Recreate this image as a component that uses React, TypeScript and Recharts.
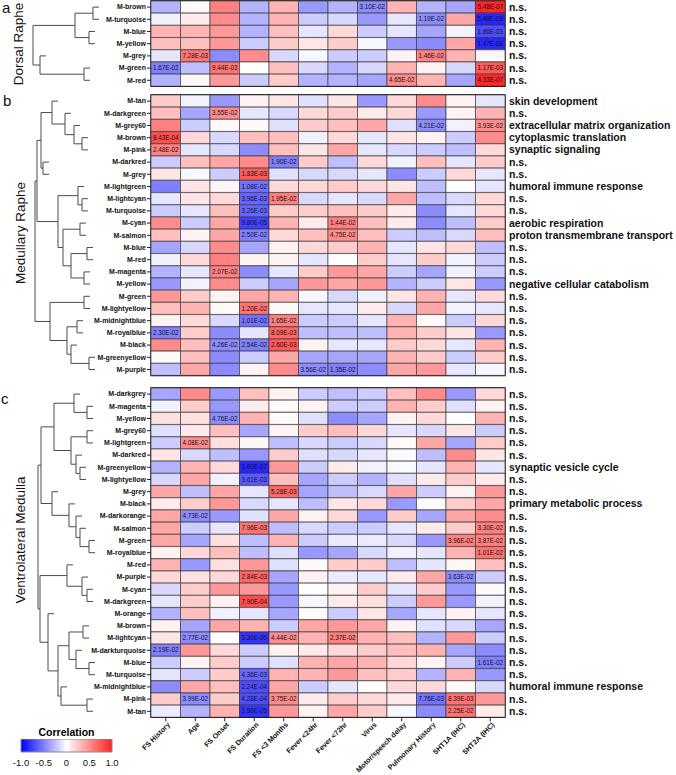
import React from 'react';
import { BarChart, Bar, Cell, XAxis, YAxis, ReferenceArea, ComposedChart, ReferenceLine, Scatter } from 'recharts';

type Tree = string | { h: number; l: Tree; r: Tree };
function m(h: number, l: Tree, r: Tree): Tree {
  return { h, l, r };
}

const TRAITS = [
  'FS History', 'Age', 'FS Onset', 'FS Duration', 'FS <3 Months', 'Fever <24hr',
  'Fever <72hr', 'Virus', 'Motor/speech delay', 'Pulmonary History', '5HT1A (IHC)', '5HT2A (IHC)',
];

// ---- a: Dorsal Raphe ----
const DR_MODULES = ['M-brown', 'M-turquoise', 'M-blue', 'M-yellow', 'M-grey', 'M-green', 'M-red'];
const DR_GO = ['n.s.', 'n.s.', 'n.s.', 'n.s.', 'n.s.', 'n.s.', 'n.s.'];
const DR_CORR = [
  [-0.3, 0.02, 0.5, -0.3, 0.3, -0.4, -0.3, -0.45, 0.3, -0.3, -0.35, 0.85],
  [-0.05, 0.08, 0.45, -0.3, 0.3, -0.2, -0.15, -0.4, -0.1, -0.45, 0.35, -0.85],
  [0.3, 0.3, 0.4, -0.3, 0.25, -0.1, 0.15, -0.2, -0.1, -0.35, -0.05, -0.7],
  [0.25, 0.25, 0.4, -0.2, 0.2, 0.1, 0.2, -0.03, -0.4, -0.45, 0.35, -0.85],
  [-0.1, 0.55, -0.45, 0.45, -0.15, -0.03, -0.2, -0.2, 0.05, 0.5, 0.3, 0.03],
  [-0.5, -0.25, 0.55, 0, 0.25, -0.15, -0.3, -0.15, 0.3, 0.05, -0.15, 0.65],
  [-0.3, 0.03, 0.4, -0.2, 0.2, -0.3, -0.3, -0.35, 0.45, 0.3, -0.35, 0.85],
];
const DR_P: [string, number, string][] = [
  ['M-brown', 7, '3.10E-02'], ['M-brown', 11, '5.48E-07'],
  ['M-turquoise', 9, '1.19E-02'], ['M-turquoise', 11, '5.48E-09'],
  ['M-blue', 11, '1.86E-03'], ['M-yellow', 11, '1.47E-08'],
  ['M-grey', 1, '7.28E-03'], ['M-grey', 9, '1.46E-02'],
  ['M-green', 0, '1.67E-02'], ['M-green', 2, '9.44E-03'], ['M-green', 11, '1.17E-03'],
  ['M-red', 8, '4.65E-02'], ['M-red', 11, '4.33E-07'],
];
const DR_TREE = m(67,
  m(25, m(7, 'M-brown', 'M-turquoise'), m(11, 'M-blue', 'M-yellow')),
  m(60, 'M-grey', m(16, 'M-green', 'M-red')));

// ---- b: Medullary Raphe ----
const MR_MODULES = [
  'M-tan', 'M-darkgreen', 'M-grey60', 'M-brown', 'M-pink', 'M-darkred', 'M-grey', 'M-lightgreen',
  'M-lightcyan', 'M-turquoise', 'M-cyan', 'M-salmon', 'M-blue', 'M-red', 'M-magenta', 'M-yellow',
  'M-green', 'M-lightyellow', 'M-midnightblue', 'M-royalblue', 'M-black', 'M-greenyellow', 'M-purple',
];
const MR_GO = [
  'skin development', 'n.s.', 'extracellular matrix organization', 'cytoplasmic translation',
  'synaptic signaling', 'n.s.', 'n.s.', 'humoral immune response', 'n.s.', 'n.s.',
  'aerobic respiration', 'proton transmembrane transport', 'n.s.', 'n.s.', 'n.s.',
  'negative cellular catabolism', 'n.s.', 'n.s.', 'n.s.', 'n.s.', 'n.s.', 'n.s.', 'n.s.',
];
const MR_CORR = [
  [0.2, -0.05, -0.4, 0.05, 0.1, -0.12, 0.1, -0.4, 0.15, 0.45, 0.05, -0.1],
  [0.25, -0.35, 0.45, -0.1, -0.15, 0.15, 0.2, 0.08, 0.15, -0.4, 0.05, 0.3],
  [0.5, -0.2, 0.02, 0.02, -0.12, 0.2, 0.25, 0.35, -0.12, -0.45, -0.05, 0.45],
  [0.7, 0.15, -0.15, 0.25, 0.25, -0.05, 0.15, -0.1, 0.1, 0.05, -0.2, 0.45],
  [0.5, -0.1, -0.15, -0.45, 0.25, 0.1, 0.35, -0.1, -0.15, -0.2, -0.25, 0.15],
  [-0.2, 0.25, 0.35, 0.45, -0.5, 0.2, -0.25, 0.15, -0.05, 0.25, -0.1, 0.2],
  [0.1, -0.03, -0.2, 0.65, -0.12, -0.15, -0.15, -0.1, -0.45, -0.2, 0.15, -0.1],
  [-0.5, 0.1, 0.03, -0.55, 0.15, 0.15, 0.2, 0.15, 0.1, -0.25, 0, -0.1],
  [-0.1, 0.1, 0.15, -0.6, 0.5, -0.15, -0.1, -0.15, 0.35, -0.25, -0.15, 0.15],
  [-0.2, -0.1, 0.25, -0.6, 0.2, 0.2, 0.25, 0.2, 0.08, -0.45, -0.1, 0.15],
  [0.45, -0.2, 0.35, -0.75, 0.3, 0.08, 0.5, 0.25, 0.08, -0.45, -0.25, 0.2],
  [0.25, 0.05, 0.35, -0.5, 0.15, 0.25, 0.45, 0.25, -0.2, -0.25, -0.15, 0.25],
  [-0.35, -0.15, 0.45, -0.35, 0.05, 0.15, 0.2, 0.3, -0.1, 0.1, 0.15, -0.25],
  [-0.05, 0.15, 0.5, 0.05, 0.05, -0.1, 0, 0.2, -0.1, 0.2, -0.05, -0.2],
  [-0.3, -0.1, 0.5, -0.45, -0.1, 0.2, 0.4, 0.35, -0.2, -0.35, -0.05, -0.2],
  [-0.4, -0.05, 0.45, -0.2, -0.35, 0.4, 0.35, 0.4, -0.3, -0.2, 0.1, -0.4],
  [0.4, 0.2, 0.05, 0.35, 0.3, -0.03, -0.15, -0.05, 0.1, 0.3, -0.1, 0.15],
  [0.25, 0.3, 0.02, 0.55, 0.02, -0.1, -0.1, 0.08, -0.15, 0.35, -0.05, -0.1],
  [0.05, 0.15, -0.15, -0.55, 0.5, -0.2, -0.2, -0.1, 0.3, 0.02, -0.2, 0.15],
  [-0.5, 0.2, -0.45, -0.1, 0.6, -0.25, -0.25, -0.25, 0.3, 0.2, 0.1, -0.4],
  [0.45, 0.25, -0.45, -0.5, 0.65, 0.05, -0.1, -0.1, 0.2, 0.15, -0.1, 0.3],
  [0.02, 0.25, -0.45, -0.2, 0.35, -0.35, -0.35, -0.35, 0.3, 0.2, -0.2, 0.2],
  [-0.25, 0.35, -0.45, 0.05, 0.45, -0.45, -0.5, -0.45, 0.35, 0.4, -0.1, -0.03],
];
const MR_P: [string, number, string][] = [
  ['M-darkgreen', 2, '3.55E-02'], ['M-grey60', 9, '4.21E-02'], ['M-grey60', 11, '3.93E-02'],
  ['M-brown', 0, '8.43E-04'], ['M-pink', 0, '2.48E-02'], ['M-darkred', 4, '1.90E-02'],
  ['M-grey', 3, '1.83E-03'], ['M-lightgreen', 3, '1.08E-02'], ['M-lightcyan', 3, '3.96E-03'],
  ['M-lightcyan', 4, '1.95E-02'], ['M-turquoise', 3, '3.26E-03'], ['M-cyan', 3, '9.80E-05'],
  ['M-cyan', 6, '1.44E-02'], ['M-salmon', 3, '2.50E-02'], ['M-salmon', 6, '4.75E-02'],
  ['M-magenta', 2, '2.07E-02'], ['M-lightyellow', 3, '1.20E-02'], ['M-midnightblue', 3, '1.01E-02'],
  ['M-midnightblue', 4, '1.65E-02'], ['M-royalblue', 0, '2.30E-02'], ['M-royalblue', 4, '8.09E-03'],
  ['M-black', 2, '4.26E-02'], ['M-black', 3, '2.54E-02'], ['M-black', 4, '2.60E-03'],
  ['M-purple', 5, '3.56E-02'], ['M-purple', 6, '1.35E-02'],
];
const MR_TREE = m(65,
  m(63,
    m(59,
      m(48, 'M-tan', m(35, 'M-darkgreen', m(26, 'M-grey60', m(18, 'M-brown', 'M-pink')))),
      m(57, 'M-darkred', 'M-grey')),
    m(42,
      m(22, 'M-lightgreen', m(18, 'M-lightcyan', 'M-turquoise')),
      m(37, m(20, 'M-cyan', 'M-salmon'), m(29, m(13, 'M-blue', 'M-red'), m(16, 'M-magenta', 'M-yellow'))))),
  m(50,
    m(16, 'M-green', 'M-lightyellow'),
    m(33, m(23, 'M-midnightblue', 'M-royalblue'), m(29, 'M-black', m(11, 'M-greenyellow', 'M-purple')))));

// ---- c: Ventrolateral Medulla ----
const VLM_MODULES = [
  'M-darkgrey', 'M-magenta', 'M-yellow', 'M-grey60', 'M-lightgreen', 'M-darkred', 'M-greenyellow',
  'M-lightyellow', 'M-grey', 'M-black', 'M-darkorange', 'M-salmon', 'M-green', 'M-royalblue', 'M-red',
  'M-purple', 'M-cyan', 'M-darkgreen', 'M-orange', 'M-brown', 'M-lightcyan', 'M-darkturquoise',
  'M-blue', 'M-turquoise', 'M-midnightblue', 'M-pink', 'M-tan',
];
const VLM_GO = [
  'n.s.', 'n.s.', 'n.s.', 'n.s.', 'n.s.', 'n.s.', 'synaptic vesicle cycle', 'n.s.', 'n.s.',
  'primary metabolic process', 'n.s.', 'n.s.', 'n.s.', 'n.s.', 'n.s.', 'n.s.', 'n.s.', 'n.s.',
  'n.s.', 'n.s.', 'n.s.', 'n.s.', 'n.s.', 'n.s.', 'humoral immune response', 'n.s.', 'n.s.',
];
const VLM_CORR = [
  [-0.35, 0.45, -0.4, 0.25, 0.05, -0.2, -0.25, -0.2, 0.25, 0.45, -0.4, 0.15],
  [-0.05, 0.2, -0.4, 0.08, 0.02, 0.05, -0.2, -0.2, 0.3, 0.2, -0.12, 0.05],
  [0.12, 0.12, -0.45, 0.3, 0.02, -0.12, -0.45, -0.35, 0.05, 0.15, 0, 0.3],
  [-0.12, 0.08, 0.25, -0.35, 0.05, 0.2, 0.25, 0.15, -0.1, -0.15, 0.1, -0.2],
  [-0.2, 0.45, 0.12, 0.03, -0.25, -0.15, -0.2, -0.15, 0.02, 0.35, -0.35, 0.2],
  [0.1, -0.15, -0.25, -0.4, 0.2, -0.12, -0.15, -0.1, -0.02, -0.25, 0.45, 0.1],
  [-0.3, 0.3, 0.15, -0.85, 0.4, -0.2, 0.08, -0.05, -0.02, -0.1, 0.3, -0.1],
  [-0.15, 0.35, -0.05, -0.65, 0.25, -0.35, -0.2, -0.3, -0.12, 0.08, 0.2, 0.08],
  [0.35, -0.25, 0.35, -0.1, 0.6, -0.35, -0.25, -0.15, 0.35, -0.2, 0.05, 0.4],
  [0.08, 0.2, 0.4, -0.15, -0.1, -0.25, 0.1, 0.15, -0.4, 0.02, 0.2, 0.35],
  [0.35, -0.45, -0.4, -0.12, 0.35, 0.05, 0.15, -0.4, 0.2, -0.35, 0.35, 0.45],
  [0.35, -0.2, -0.1, 0.55, -0.25, -0.15, -0.2, -0.2, -0.1, 0.08, 0.2, 0.5],
  [0.35, -0.35, 0.12, -0.25, 0.3, -0.2, -0.08, -0.08, -0.15, -0.4, 0.5, 0.5],
  [0.05, 0.15, 0.25, -0.25, -0.12, -0.4, -0.35, -0.15, -0.05, -0.1, 0.3, 0.55],
  [0.3, -0.4, 0.12, 0.4, -0.12, 0.02, 0.2, 0.2, -0.25, -0.1, 0.03, 0.25],
  [0.15, 0.12, 0.15, 0.6, -0.35, 0.05, -0.08, -0.1, 0.08, 0.35, -0.45, -0.2],
  [-0.15, 0.2, 0.4, 0.4, -0.4, 0, 0.05, 0.2, -0.1, 0.2, -0.4, -0.02],
  [-0.1, 0.2, 0.05, 0.7, -0.4, -0.03, 0.08, 0.12, -0.2, 0.4, -0.4, -0.05],
  [-0.3, 0.25, -0.05, -0.1, -0.35, 0.02, -0.2, 0.1, -0.35, -0.1, 0.05, -0.1],
  [0.05, -0.35, 0.35, 0.3, -0.2, 0.35, 0.4, 0.35, 0.05, -0.12, -0.15, -0.35],
  [0.1, -0.45, 0, -0.8, 0.45, 0.3, 0.5, 0.3, 0.25, -0.3, 0.4, -0.2],
  [-0.5, 0.4, 0.15, -0.2, 0.05, 0.08, 0.15, 0.2, 0.25, 0.3, -0.35, -0.45],
  [-0.2, 0.05, 0.2, -0.2, -0.12, 0.3, 0.35, 0.3, 0.15, 0.05, -0.2, -0.5],
  [-0.1, -0.2, 0.2, -0.6, 0.3, 0.3, 0.4, 0.25, 0.2, -0.3, 0.3, -0.4],
  [-0.45, 0.35, 0.25, -0.7, 0.35, -0.2, -0.1, 0, 0.15, 0.15, 0.02, -0.15],
  [0.2, -0.45, 0.2, -0.7, 0.45, 0.08, 0.2, 0.15, 0.08, -0.55, 0.55, 0.4],
  [-0.08, -0.3, 0.3, -0.8, 0.4, 0.05, 0.35, 0.2, -0.03, -0.45, 0.55, 0.08],
];
const VLM_P: [string, number, string][] = [
  ['M-yellow', 2, '4.76E-02'], ['M-lightgreen', 1, '4.08E-02'], ['M-greenyellow', 3, '1.60E-07'],
  ['M-lightyellow', 3, '3.61E-03'], ['M-grey', 4, '5.28E-03'], ['M-darkorange', 1, '4.73E-02'],
  ['M-salmon', 3, '7.96E-03'], ['M-salmon', 11, '3.30E-02'], ['M-green', 10, '3.96E-02'],
  ['M-green', 11, '3.87E-02'], ['M-royalblue', 11, '1.01E-02'], ['M-purple', 3, '2.84E-03'],
  ['M-purple', 10, '3.63E-02'], ['M-darkgreen', 3, '7.90E-04'], ['M-lightcyan', 1, '2.77E-02'],
  ['M-lightcyan', 3, '3.30E-05'], ['M-lightcyan', 4, '4.44E-02'], ['M-lightcyan', 6, '2.37E-02'],
  ['M-darkturquoise', 0, '2.19E-02'], ['M-blue', 11, '1.61E-02'], ['M-turquoise', 3, '4.36E-03'],
  ['M-midnightblue', 3, '2.24E-04'], ['M-pink', 1, '3.99E-02'], ['M-pink', 3, '4.28E-04'],
  ['M-pink', 4, '3.75E-02'], ['M-pink', 9, '7.76E-03'], ['M-pink', 10, '8.39E-03'],
  ['M-tan', 3, '1.96E-05'], ['M-tan', 10, '2.25E-02'],
];
const VLM_TREE = m(62,
  m(59,
    m(46, m(26, 'M-darkgrey', m(13, 'M-magenta', 'M-yellow')),
      m(29, m(13, 'M-grey60', 'M-lightgreen'), m(24, 'M-darkred', m(20, 'M-greenyellow', 'M-lightyellow')))),
    m(48, 'M-grey', m(31, 'M-black', m(24, 'M-darkorange', m(20, 'M-salmon', m(11, 'M-green', 'M-royalblue')))))),
  m(60,
    m(33, 'M-red', m(18, 'M-purple', m(13, 'M-cyan', 'M-darkgreen'))),
    m(52, 'M-orange',
      m(42,
        m(31, m(17, 'M-brown', 'M-lightcyan'), m(24, 'M-darkturquoise', m(11, 'M-blue', 'M-turquoise'))),
        m(39, 'M-midnightblue', m(13, 'M-pink', 'M-tan'))))));

const LEGEND_TICKS = [-1, -0.5, 0, 0.5, 1];

const ROW_H = 12.2;
const AXIS_W = 151;
const GO_W = 171;
const WIDTH = 676;
const GO_X = 509;
const HANG = 6;
const FONT = '"Liberation Sans", Arial, sans-serif';

function corrColor(r: number) {
  const c = Math.round(255 * (1 - Math.min(1, Math.abs(r))));
  return r >= 0 ? `rgb(255,${c},${c})` : `rgb(${c},${c},255)`;
}

function treeSegments(tree: Tree, modules: string[]) {
  const segs: { x: number; y: number }[][] = [];
  const walk = (t: Tree): { y: number; h: number | null } => {
    if (typeof t === 'string') return { y: modules.indexOf(t), h: null };
    const a = walk(t.l);
    const b = walk(t.r);
    segs.push([{ x: t.h, y: a.y }, { x: t.h, y: b.y }]);
    for (const c of [a, b]) segs.push([{ x: t.h, y: c.y }, { x: c.h ?? t.h - HANG, y: c.y }]);
    return { y: (a.y + b.y) / 2, h: t.h };
  };
  walk(tree);
  return segs;
}

const RowTick = (props: any) => {
  const { x, y, payload, modules, go } = props;
  const i = modules.indexOf(payload.value);
  return (
    <g>
      <text x={x} y={y} dy={2.4} textAnchor="end" fontSize={7} fontWeight={700} fill="#111">{payload.value}</text>
      <text x={GO_X} y={y} dy={3.6} textAnchor="start" fontSize={10.5} fontWeight={700} fill="#111">{go[i]}</text>
    </g>
  );
};

const TraitTick = (props: any) => {
  const { x, y, payload } = props;
  return (
    <text transform={`translate(${x + 3},${y}) rotate(-45)`} textAnchor="end" dy="0.35em"
      fontSize={7.2} fontWeight={700} fill="#111">
      {TRAITS[Math.floor(payload.value)]}
    </text>
  );
};

function Heatmap({ modules, corr, pvals, go, top, labels }: any) {
  const rows = modules.map((name: string) => {
    const o: any = { name };
    TRAITS.forEach((_, j) => { o[`u${j}`] = 1; });
    return o;
  });
  const pmap = new Map(pvals.map(([mod, j, t]: [string, number, string]) => [`${modules.indexOf(mod)}|${j}`, t]));
  const mt = 4;
  const xh = labels ? 57 : 8;
  const height = mt + modules.length * ROW_H + xh;
  return (
    <div style={{ position: 'absolute', left: 0, top: top - mt }}>
      <BarChart layout="vertical" width={WIDTH} height={height} data={rows} barCategoryGap={0}
        margin={{ top: mt, right: GO_W, left: 0, bottom: 0 }}>
        <XAxis type="number" domain={[0, 12]} ticks={TRAITS.map((_, j) => j + 0.5)} interval={0}
          axisLine={false} tickLine={{ stroke: '#222' }} tickSize={4} height={xh}
          tick={labels ? <TraitTick /> : false} />
        <YAxis type="category" dataKey="name" width={AXIS_W} interval={0} axisLine={false}
          tickSize={4} tickMargin={1} tickLine={{ stroke: '#222' }}
          tick={<RowTick modules={modules} go={go} />} />
        {TRAITS.map((t, j) => (
          <Bar key={t} dataKey={`u${j}`} stackId="cells" isAnimationActive={false}
            label={(p: any) => {
              const txt = pmap.get(`${p.index}|${j}`);
              if (!txt) return <g />;
              return (
                <text x={Number(p.x) + Number(p.width) / 2} y={Number(p.y) + Number(p.height) / 2} dy={2.2}
                  textAnchor="middle" fontSize={6.3} fill="#141414">{txt as string}</text>
              );
            }}>
            {rows.map((r: any, i: number) => (
              <Cell key={r.name} fill={corrColor(corr[i][j])} stroke="#2e2e2e" strokeWidth={0.6} />
            ))}
          </Bar>
        ))}
        <ReferenceArea x1={0} x2={12} fill="none" stroke="#000" strokeWidth={1.3} ifOverflow="visible" />
      </BarChart>
    </div>
  );
}

function Dendrogram({ tree, modules, top }: any) {
  const n = modules.length;
  const segs = treeSegments(tree, modules);
  const pts = modules.map((name: string, i: number) => ({ name, h: 0, i }));
  return (
    <div style={{ position: 'absolute', left: 0, top }}>
      <ComposedChart width={100} height={n * ROW_H} data={pts} margin={{ top: 0, right: 0, left: 0, bottom: 0 }}>
        <XAxis type="number" dataKey="h" domain={[0, 100]} reversed hide />
        <YAxis type="number" dataKey="i" domain={[-0.5, n - 0.5]} reversed hide />
        <Scatter data={pts} isAnimationActive={false} shape={() => <g />} />
        {segs.map((s, k) => (
          <ReferenceLine key={k} segment={s} stroke="#4a4a4a" strokeWidth={1} ifOverflow="visible" />
        ))}
      </ComposedChart>
    </div>
  );
}

function Legend() {
  return (
    <div style={{ position: 'absolute', left: 0, top: 726 }}>
      <div style={{ position: 'absolute', left: 21, width: 91, top: 0, textAlign: 'center', fontSize: 10.5, fontWeight: 700 }}>
        Correlation
      </div>
      <div style={{ position: 'absolute', left: 0, top: 13 }}>
        <BarChart layout="vertical" width={134} height={34} data={[{ k: 'c', v: [-1, 1] }]} barCategoryGap={0}
          margin={{ top: 0, right: 22, left: 21, bottom: 6 }}>
          <defs>
            <linearGradient id="corrGrad" x1="0" x2="1" y1="0" y2="0">
              <stop offset="0%" stopColor="#0000ff" />
              <stop offset="50%" stopColor="#ffffff" />
              <stop offset="100%" stopColor="#ff2020" />
            </linearGradient>
          </defs>
          <XAxis type="number" domain={[-1, 1]} ticks={LEGEND_TICKS} interval={0} axisLine={false} tickLine={false}
            height={15} tickMargin={1} tick={{ fontSize: 9.5, fill: '#111' }}
            tickFormatter={(v: number) => (v === 0 ? '0' : v.toFixed(1))} />
          <YAxis type="category" dataKey="k" hide />
          <Bar dataKey="v" fill="url(#corrGrad)" stroke="#8a8a8a" strokeWidth={1} isAnimationActive={false} />
        </BarChart>
      </div>
    </div>
  );
}

const Title = ({ text, x, y }: any) => (
  <div style={{
    position: 'absolute', left: x, top: y, transform: 'translate(-50%, -50%) rotate(-90deg)',
    whiteSpace: 'nowrap', fontSize: 13.5, color: '#111',
  }}>{text}</div>
);

const Letter = ({ text, x, y }: any) => (
  <div style={{ position: 'absolute', left: x, top: y, fontSize: 15, color: '#111', lineHeight: 1 }}>{text}</div>
);

export default function App() {
  return (
    <div style={{ position: 'absolute', left: 0, top: 0, width: WIDTH, height: 775, background: '#fff', fontFamily: FONT, overflow: 'hidden' }}>
      <Letter text="a" x={2} y={0} />
      <Letter text="b" x={3} y={93} />
      <Letter text="c" x={1} y={391} />
      <Title text="Dorsal Raphe" x={18} y={44} />
      <Title text="Medullary Raphe" x={20} y={233} />
      <Title text="Ventrolateral Medulla" x={20} y={540} />

      <Dendrogram tree={DR_TREE} modules={DR_MODULES} top={1} />
      <Heatmap modules={DR_MODULES} corr={DR_CORR} pvals={DR_P} go={DR_GO} top={1} />

      <Dendrogram tree={MR_TREE} modules={MR_MODULES} top={95} />
      <Heatmap modules={MR_MODULES} corr={MR_CORR} pvals={MR_P} go={MR_GO} top={95} />

      <Dendrogram tree={VLM_TREE} modules={VLM_MODULES} top={388} />
      <Heatmap modules={VLM_MODULES} corr={VLM_CORR} pvals={VLM_P} go={VLM_GO} top={388} labels />

      <Legend />
    </div>
  );
}
